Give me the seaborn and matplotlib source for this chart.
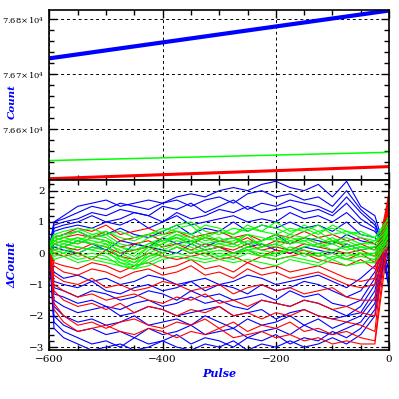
import numpy as np
import pandas as pd
import seaborn as sns
import matplotlib.pyplot as plt
from matplotlib.ticker import MultipleLocator, FuncFormatter

sns.set_style('ticks')
plt.rcParams['font.family'] = ['DejaVu Serif']
plt.rcParams['mathtext.fontset'] = 'dejavuserif'

# Top panel: raw counts (three straight trends)
top_pulse = [-600, 0]
top_blue = [76729, 76816]
top_green = [76543, 76558]
top_red = [76510, 76532]

# Bottom panel: residual counts per run
pulse = [-600, -592, -575, -550, -525, -500, -475, -450, -425, -400, -375, -350, -325, -300,
         -275, -250, -225, -200, -175, -150, -125, -100, -75, -50, -25, -10, 0]

blue_runs = [
    [0.2, 1.0, 1.2, 1.5, 1.6, 1.7, 1.5, 1.6, 1.7, 1.6, 1.8, 1.9, 1.8, 2.0, 2.1, 2.0, 2.2, 2.3, 2.1, 2.0, 2.2, 1.8, 2.3, 1.5, 1.2, 0.3, 0.1],
    [0.1, 1.0, 1.1, 1.3, 1.5, 1.4, 1.6, 1.5, 1.4, 1.6, 1.7, 1.5, 1.7, 1.8, 1.6, 1.9, 2.0, 1.8, 1.9, 1.7, 1.8, 1.5, 2.0, 1.4, 1.0, 0.2, -0.1],
    [0.0, 0.9, 1.0, 1.1, 1.3, 1.2, 1.4, 1.3, 1.2, 1.5, 1.4, 1.6, 1.3, 1.5, 1.7, 1.4, 1.6, 1.5, 1.7, 1.6, 1.5, 1.3, 1.8, 1.3, 0.9, 0.3, 0.4],
    [0.1, 0.8, 0.9, 1.0, 1.2, 1.0, 1.1, 1.3, 1.2, 1.0, 1.3, 1.1, 1.2, 1.4, 1.3, 1.5, 1.3, 1.4, 1.5, 1.3, 1.4, 1.2, 1.6, 1.1, 0.8, 0.2, 0.6],
    [0.0, 0.7, 0.8, 0.9, 0.8, 1.0, 0.9, 1.1, 0.8, 1.0, 1.2, 0.9, 1.0, 1.1, 1.2, 1.0, 1.1, 1.0, 1.3, 1.1, 1.2, 1.0, 1.3, 0.9, 0.7, 0.3, -0.3],
    [0.0, 0.5, 0.6, 0.7, 0.5, 0.6, 0.8, 0.6, 0.5, 0.7, 0.9, 0.6, 0.8, 0.7, 1.0, 0.7, 0.9, 0.8, 1.0, 0.8, 0.9, 0.7, 1.0, 0.6, 0.5, 0.2, 1.0],
    [0.0, 0.3, 0.2, 0.4, 0.3, 0.1, 0.4, 0.3, 0.2, 0.5, 0.3, 0.4, 0.2, 0.4, 0.5, 0.3, 0.4, 0.6, 0.3, 0.5, 0.4, 0.3, 0.6, 0.4, 0.3, 0.1, -0.6],
    [0.0, 0.2, 0.1, 0.0, 0.2, 0.1, -0.1, 0.3, 0.2, 0.1, 0.0, 0.3, 0.1, 0.2, 0.0, 0.2, 0.3, 0.1, 0.0, 0.2, 0.1, 0.0, 0.3, 0.1, 0.2, 0.0, 0.8],
    [0.0, -0.6, -0.8, -0.7, -0.9, -0.8, -1.0, -0.9, -0.7, -0.8, -1.0, -0.9, -0.8, -1.0, -0.9, -0.7, -0.8, -1.0, -0.9, -0.8, -0.7, -0.9, -1.1, -0.8, -0.4, 0.0, -0.9],
    [0.0, -0.9, -1.0, -1.1, -0.9, -1.2, -1.3, -1.1, -1.0, -1.2, -1.1, -0.9, -1.2, -1.0, -1.1, -1.3, -1.0, -1.2, -1.1, -0.9, -1.0, -1.2, -1.4, -1.2, -0.6, 0.1, 0.5],
    [0.0, -1.1, -1.2, -1.4, -1.2, -1.3, -1.5, -1.4, -1.2, -1.3, -1.5, -1.2, -1.4, -1.3, -1.5, -1.4, -1.3, -1.5, -1.2, -1.4, -1.3, -1.6, -1.7, -1.5, -0.8, 0.0, -1.2],
    [0.0, -1.3, -1.4, -1.6, -1.5, -1.7, -1.8, -1.6, -1.5, -1.7, -1.6, -1.4, -1.6, -1.5, -1.7, -1.8, -1.5, -1.6, -1.7, -1.5, -1.6, -1.8, -2.0, -1.7, -1.0, -0.1, 0.2],
    [0.0, -1.5, -1.7, -1.9, -1.8, -1.7, -2.0, -1.9, -1.7, -1.8, -2.0, -1.9, -1.8, -1.7, -2.0, -1.9, -1.8, -2.1, -1.9, -1.8, -2.0, -2.1, -2.0, -1.9, -1.2, 0.0, -0.5],
    [0.0, -1.7, -2.0, -2.2, -2.1, -2.3, -2.2, -2.0, -2.3, -2.2, -2.1, -2.3, -2.0, -2.2, -2.4, -2.1, -2.3, -2.2, -2.0, -2.3, -2.1, -2.4, -2.2, -2.0, -1.4, -0.2, 0.0],
    [0.0, -2.0, -2.3, -2.5, -2.4, -2.6, -2.5, -2.7, -2.4, -2.6, -2.5, -2.3, -2.6, -2.5, -2.4, -2.7, -2.5, -2.4, -2.6, -2.3, -2.5, -2.6, -2.4, -2.2, -1.6, -0.3, -1.0],
    [0.0, -2.2, -2.5, -2.7, -2.9, -2.8, -3.0, -2.7, -2.9, -2.8, -2.6, -2.9, -2.7, -2.8, -3.0, -2.7, -2.8, -2.6, -2.9, -2.7, -2.8, -2.5, -2.7, -2.4, -1.8, -0.3, 0.3],
    [0.0, -2.4, -2.7, -2.9, -3.1, -3.0, -2.9, -3.1, -3.0, -2.8, -3.0, -3.1, -2.9, -3.0, -2.8, -3.1, -2.9, -3.0, -2.8, -3.0, -2.9, -2.7, -2.9, -2.6, -2.0, -0.4, -0.4],
]

red_runs = [
    [0.3, 0.5, 0.6, 0.8, 0.7, 0.9, 0.6, 0.7, 0.8, 0.6, 0.7, 0.5, 0.6, 0.7, 0.5, 0.6, 0.4, 0.6, 0.5, 0.7, 0.5, 0.6, 0.4, 0.5, 0.3, 0.6, 1.8],
    [0.3, 0.4, 0.5, 0.6, 0.5, 0.7, 0.4, 0.5, 0.6, 0.4, 0.5, 0.3, 0.5, 0.4, 0.3, 0.5, 0.2, 0.4, 0.3, 0.5, 0.3, 0.4, 0.2, 0.3, 0.1, 0.7, 2.0],
    [0.2, 0.3, 0.4, 0.3, 0.5, 0.4, 0.2, 0.3, 0.4, 0.2, 0.3, 0.1, 0.3, 0.2, 0.1, 0.3, 0.1, 0.2, 0.1, 0.3, 0.2, 0.1, 0.0, 0.1, -0.1, 0.8, 1.7],
    [0.2, 0.1, 0.2, 0.1, 0.3, 0.2, 0.0, 0.1, 0.2, 0.0, 0.2, 0.0, 0.1, 0.2, 0.0, 0.1, -0.1, 0.1, 0.0, 0.1, -0.1, 0.0, -0.2, 0.0, -0.3, 0.9, 1.5],
    [0.2, 0.0, -0.1, 0.0, -0.2, 0.1, -0.1, -0.2, 0.0, -0.1, -0.2, -0.1, 0.0, -0.2, -0.1, -0.3, -0.1, -0.2, -0.1, 0.0, -0.2, -0.3, -0.4, -0.2, -0.5, 1.0, 1.9],
    [0.2, -0.3, -0.4, -0.5, -0.3, -0.4, -0.6, -0.4, -0.3, -0.5, -0.4, -0.2, -0.5, -0.4, -0.6, -0.3, -0.5, -0.4, -0.6, -0.5, -0.4, -0.6, -0.8, -0.9, -0.8, 0.9, 1.6],
    [0.2, -0.4, -0.6, -0.7, -0.5, -0.6, -0.8, -0.6, -0.5, -0.7, -0.6, -0.4, -0.7, -0.6, -0.8, -0.5, -0.7, -0.6, -0.8, -0.7, -0.6, -0.8, -1.0, -1.1, -1.0, 0.7, 1.3],
    [0.2, -0.7, -0.9, -1.0, -0.8, -1.1, -1.0, -1.2, -1.1, -0.9, -1.0, -1.2, -1.1, -1.0, -1.3, -1.1, -1.0, -1.2, -1.1, -1.3, -1.2, -1.1, -1.4, -1.5, -1.5, 0.5, 1.4],
    [0.2, -1.0, -1.2, -1.4, -1.3, -1.5, -1.4, -1.3, -1.5, -1.6, -1.4, -1.5, -1.3, -1.6, -1.5, -1.7, -1.5, -1.6, -1.7, -1.5, -1.6, -1.8, -1.7, -1.9, -2.0, 0.2, 1.7],
    [0.2, -1.2, -1.5, -1.7, -1.6, -1.8, -1.6, -1.9, -1.7, -1.8, -2.0, -1.8, -1.9, -1.7, -2.0, -1.9, -2.1, -1.9, -2.0, -1.8, -2.0, -2.1, -2.2, -2.3, -2.5, 0.0, 1.2],
    [0.2, -1.6, -2.0, -2.3, -2.2, -2.4, -2.2, -2.1, -2.3, -2.4, -2.2, -2.3, -2.1, -2.4, -2.2, -2.5, -2.3, -2.4, -2.2, -2.5, -2.4, -2.6, -2.5, -2.7, -2.8, -0.5, 1.0],
    [0.2, -1.8, -2.2, -2.5, -2.4, -2.3, -2.5, -2.6, -2.4, -2.5, -2.7, -2.5, -2.6, -2.4, -2.7, -2.6, -2.5, -2.7, -2.6, -2.8, -2.7, -2.9, -2.8, -2.9, -2.9, -0.8, 0.6],
]

green_runs = [
    [0.3, 0.6, 0.7, 0.8, 0.6, 0.7, 0.5, 0.4, 0.6, 0.7, 0.9, 1.0, 0.7, 0.6, 0.8, 0.7, 0.9, 0.8, 0.6, 0.9, 0.7, 0.8, 0.6, 0.7, 0.5, 0.8, 1.2],
    [0.3, 0.5, 0.6, 0.7, 0.5, 0.6, 0.3, 0.2, 0.5, 0.6, 0.8, 0.9, 0.5, 0.7, 0.6, 0.8, 0.7, 0.6, 0.8, 0.7, 0.9, 0.6, 0.7, 0.5, 0.4, 0.7, 1.0],
    [0.2, 0.4, 0.5, 0.4, 0.6, 0.5, 0.2, 0.0, 0.3, 0.5, 0.7, 0.6, 0.4, 0.5, 0.3, 0.6, 0.5, 0.4, 0.6, 0.5, 0.7, 0.4, 0.5, 0.3, 0.3, 0.6, 0.9],
    [0.2, 0.3, 0.4, 0.5, 0.3, 0.4, 0.0, -0.2, 0.2, 0.4, 0.6, 0.5, 0.3, 0.4, 0.5, 0.3, 0.4, 0.5, 0.3, 0.4, 0.5, 0.3, 0.4, 0.2, 0.2, 0.5, 0.8],
    [0.2, 0.3, 0.2, 0.4, 0.3, 0.2, -0.1, -0.3, 0.1, 0.3, 0.5, 0.4, 0.2, 0.3, 0.2, 0.4, 0.3, 0.2, 0.4, 0.3, 0.2, 0.3, 0.1, 0.2, 0.1, 0.4, 0.7],
    [0.2, 0.2, 0.3, 0.2, 0.1, 0.3, -0.2, -0.4, 0.0, 0.2, 0.4, 0.3, 0.1, 0.2, 0.3, 0.1, 0.2, 0.3, 0.1, 0.2, 0.3, 0.1, 0.2, 0.0, 0.0, 0.3, 0.6],
    [0.1, 0.1, 0.2, 0.0, 0.2, 0.1, -0.3, -0.5, -0.1, 0.1, 0.3, 0.2, 0.0, 0.1, 0.0, 0.2, 0.1, 0.0, 0.2, 0.1, 0.0, 0.1, -0.1, 0.0, -0.1, 0.3, 0.5],
    [0.1, 0.0, 0.1, -0.1, 0.0, -0.1, -0.4, -0.5, -0.2, 0.0, 0.2, 0.1, -0.1, 0.0, -0.1, 0.1, 0.0, -0.1, 0.1, 0.0, -0.1, 0.0, -0.2, -0.1, -0.2, 0.2, 0.4],
    [0.1, -0.1, 0.0, -0.2, -0.1, -0.2, -0.3, -0.4, -0.3, -0.1, 0.0, -0.1, -0.2, -0.1, -0.2, 0.0, -0.1, -0.2, -0.1, -0.2, -0.3, -0.1, -0.2, -0.3, -0.2, 0.2, 0.6],
    [0.1, -0.2, -0.1, -0.3, -0.2, -0.3, -0.4, -0.5, -0.4, -0.2, -0.1, -0.2, -0.3, -0.2, -0.3, -0.2, -0.3, -0.4, -0.2, -0.3, -0.4, -0.2, -0.4, -0.3, -0.3, 0.1, 0.3],
    [0.3, 0.6, 0.5, 0.7, 0.8, 0.6, 0.7, 0.5, 0.6, 0.8, 0.7, 0.6, 0.9, 0.8, 0.6, 0.9, 0.7, 1.0, 0.7, 0.8, 0.6, 0.9, 0.7, 0.6, 0.5, 0.9, 1.1],
    [0.2, 0.4, 0.3, 0.5, 0.4, 0.3, 0.1, -0.1, 0.2, 0.3, 0.6, 0.4, 0.5, 0.3, 0.4, 0.6, 0.2, 0.3, 0.5, 0.4, 0.2, 0.4, 0.3, 0.1, 0.2, 0.5, 0.7],
    [0.2, 0.1, 0.0, 0.2, 0.1, 0.0, -0.2, -0.3, -0.1, 0.0, 0.2, 0.0, 0.1, -0.1, 0.0, 0.1, -0.1, 0.0, 0.1, -0.1, 0.0, -0.2, 0.0, -0.1, 0.0, 0.4, 0.9],
    [0.2, 0.5, 0.4, 0.3, 0.5, 0.4, 0.2, 0.1, 0.3, 0.4, 0.5, 0.3, 0.6, 0.4, 0.5, 0.2, 0.4, 0.6, 0.4, 0.5, 0.3, 0.5, 0.2, 0.3, 0.4, 0.6, 0.8],
]

rows = []
for group, runs in [('blue', blue_runs), ('red', red_runs), ('green', green_runs)]:
    for i, run in enumerate(runs):
        for p, v in zip(pulse, run):
            rows.append({'pulse': p, 'dcount': v, 'group': group, 'run': f'{group}{i}'})
df = pd.DataFrame(rows)

palette = {'blue': '#0000ff', 'red': '#ff0000', 'green': '#00ff00'}

fig = plt.figure(figsize=(3.99, 3.99), dpi=100)
ax1 = fig.add_axes([0.124, 0.548, 0.851, 0.427])
ax2 = fig.add_axes([0.124, 0.123, 0.851, 0.425])

# top panel
sns.lineplot(x=top_pulse, y=top_green, color=palette['green'], lw=1.1, ax=ax1)
sns.lineplot(x=top_pulse, y=top_red, color=palette['red'], lw=2.2, ax=ax1)
sns.lineplot(x=top_pulse, y=top_blue, color=palette['blue'], lw=3.0, ax=ax1)
ax1.set_xlim(-600, 0)
ax1.set_ylim(76507, 76817)

# bottom panel
sns.lineplot(data=df, x='pulse', y='dcount', hue='group', units='run', estimator=None,
             hue_order=['blue', 'red', 'green'], palette=palette, lw=0.8,
             legend=False, ax=ax2)
ax2.set_xlim(-600, 0)
ax2.set_ylim(-3.09, 2.33)

def sci_fmt(v, pos):
    return r'$%.2f\!\times\!10^{4}$' % (v / 1e4)

for ax in (ax1, ax2):
    ax.xaxis.set_major_locator(MultipleLocator(200))
    ax.xaxis.set_minor_locator(MultipleLocator(50))
    ax.tick_params(which='both', direction='in', top=True, right=True, colors='black',
                   labelsize=7.5, width=1.0)
    ax.tick_params(which='major', length=6)
    ax.tick_params(which='minor', length=3.5)
    ax.grid(True, which='major', color='black', ls=(0, (3, 3)), lw=0.7)
    for s in ax.spines.values():
        s.set_linewidth(1.2)
        s.set_color('black')

ax1.yaxis.set_major_locator(MultipleLocator(100))
ax1.yaxis.set_minor_locator(MultipleLocator(20))
ax1.yaxis.set_major_formatter(FuncFormatter(sci_fmt))
ax1.tick_params(labelbottom=False, labelsize=6)
ax1.set_xlabel('')
ax1.set_ylabel('Count', color='#0000ff', fontstyle='italic', fontweight='bold',
               fontsize=7.5, labelpad=2)

ax2.yaxis.set_major_locator(MultipleLocator(1))
ax2.yaxis.set_minor_locator(MultipleLocator(0.2))
ax2.set_xticks([-600, -400, -200, 0])
ax2.set_xticklabels(['\u2212600', '\u2212400', '\u2212200', '0'])
ax2.set_xlabel('Pulse', color='#0000ff', fontstyle='italic', fontweight='bold',
               fontsize=8, labelpad=3)
ax2.set_ylabel('\u0394Count', color='#0000ff', fontstyle='italic', fontweight='bold',
               fontsize=8, labelpad=8)
ax2.yaxis.set_label_coords(-0.095, 0.5)
ax1.yaxis.set_label_coords(-0.095, 0.46)

fig.savefig('out.png', dpi=100, facecolor='white')
